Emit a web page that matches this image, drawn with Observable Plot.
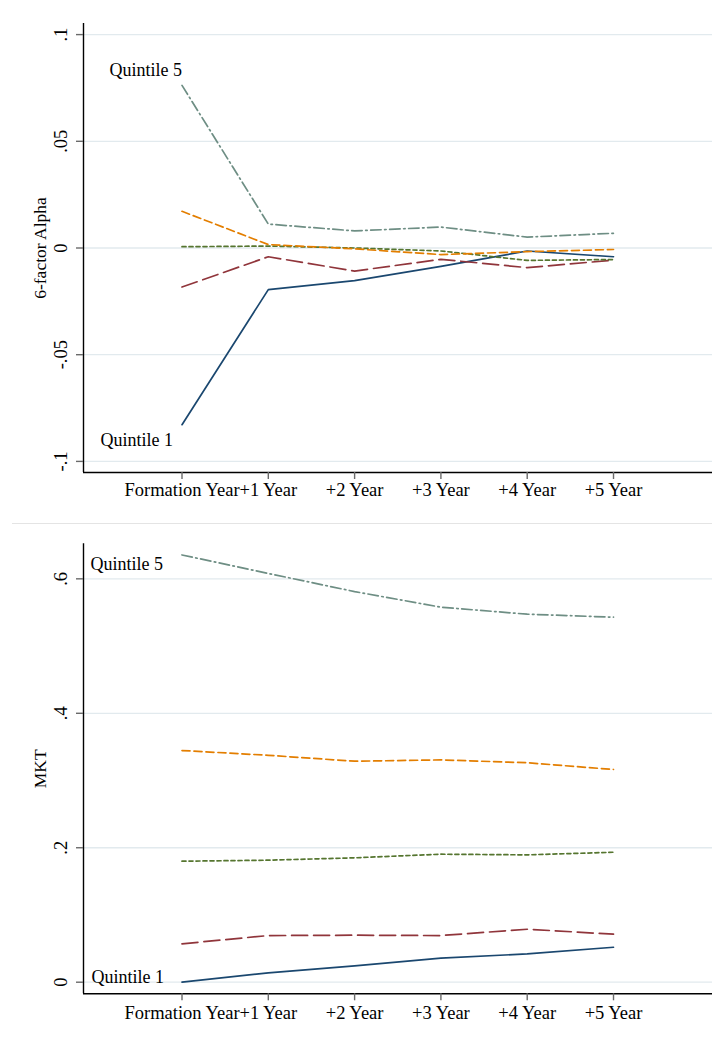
<!DOCTYPE html>
<html>
<head>
<meta charset="utf-8">
<script src="https://cdn.jsdelivr.net/npm/d3@7"></script>
<script src="https://cdn.jsdelivr.net/npm/@observablehq/plot@0.6"></script>
<style>
  html, body { margin: 0; padding: 0; background: #ffffff; }
  #sep { height: 1px; background: #e4e4e4; margin-left: 12px; }
  svg { display: block; }
</style>
</head>
<body>
<div id="top"></div>
<div id="sep"></div>
<div id="bottom"></div>
<script>
// ---- data ----
const xLabels = ["Formation Year", "+1 Year", "+2 Year", "+3 Year", "+4 Year", "+5 Year"];
const periods = [0, 1, 2, 3, 4, 5];
const seriesNames = ["Quintile 1", "Quintile 2", "Quintile 3", "Quintile 4", "Quintile 5"];

// 6-factor alpha
const alphaQ1 = [-0.0828, -0.0195, -0.0153, -0.0086, -0.0014, -0.0041];
const alphaQ2 = [-0.0183, -0.0041, -0.0108, -0.0053, -0.0092, -0.0057];
const alphaQ3 = [0.0006, 0.0009, 0.0000, -0.0014, -0.0058, -0.0054];
const alphaQ4 = [0.0172, 0.0016, -0.0004, -0.0031, -0.0017, -0.0007];
const alphaQ5 = [0.0762, 0.0112, 0.0080, 0.0098, 0.0051, 0.0069];

// MKT loading
const mktQ1 = [0.0000, 0.0139, 0.0243, 0.0357, 0.0421, 0.0520];
const mktQ2 = [0.0571, 0.0694, 0.0699, 0.0694, 0.0788, 0.0714];
const mktQ3 = [0.1800, 0.1815, 0.1850, 0.1904, 0.1894, 0.1933];
const mktQ4 = [0.3446, 0.3375, 0.3287, 0.3307, 0.3264, 0.3164];
const mktQ5 = [0.6355, 0.6080, 0.5810, 0.5578, 0.5474, 0.5429];

const alphaTicks = [-0.1, -0.05, 0, 0.05, 0.1];
const alphaTickLabels = ["-.1", "-.05", "0", ".05", ".1"];
const mktTicks = [0, 0.2, 0.4, 0.6];
const mktTickLabels = ["0", ".2", ".4", ".6"];

const alphaTitle = "6-factor Alpha";
const mktTitle = "MKT";

// ---- styles ----
const colors = ["#1a476f", "#90353b", "#55752f", "#e37e00", "#6e8e84"];
const dashes = [null, "16,6", "4,3", "8,4", "10.5,3.5,1.5,3.5"];
const FONT = "'Liberation Serif', 'Times New Roman', Times, serif";
const GRID = "#e2eaee";

function rows(values) {
  return periods.map((p, i) => ({x: p, y: values[i]}));
}

function panel({series, ticks, tickLabels, title, yDomain, height, marginTop, marginBottom, tickPadding, labels}) {
  const xDomain = [-1.1414, 6.147];
  const marks = [];
  marks.push(Plot.ruleY(ticks, {stroke: GRID, strokeWidth: 1.3}));
  series.forEach((vals, k) => {
    const opts = {x: "x", y: "y", stroke: colors[k], strokeWidth: 1.7, curve: "linear"};
    if (dashes[k]) opts.strokeDasharray = dashes[k];
    marks.push(Plot.line(rows(vals), opts));
  });
  marks.push(Plot.ruleY([yDomain[0]], {stroke: "#000", strokeWidth: 1.4}));
  marks.push(Plot.ruleX([xDomain[0]], {stroke: "#000", strokeWidth: 1.4}));
  marks.push(Plot.axisX({
    ticks: periods, tickFormat: i => xLabels[i], tickSize: 7, tickPadding,
    stroke: "#6a6a6a", strokeWidth: 1.4, fill: "#000", fontSize: 18.5, fontFamily: FONT, label: null
  }));
  marks.push(Plot.axisY({
    ticks, tickFormat: () => "", tickSize: 7, stroke: "#6a6a6a", strokeWidth: 1.4, label: null
  }));
  marks.push(Plot.text(ticks, {
    y: d => d, text: (d, i) => tickLabels[i], frameAnchor: "left", dx: -22.5, rotate: -90,
    textAnchor: "middle", lineAnchor: "middle", fontSize: 18.5, fontFamily: FONT, fill: "#000"
  }));
  marks.push(Plot.text([title], {
    text: d => d, frameAnchor: "left", dx: -43, rotate: -90,
    textAnchor: "middle", lineAnchor: "middle", fontSize: 17.5, fontFamily: FONT, fill: "#000"
  }));
  labels.forEach(l => {
    marks.push(Plot.text([{x: 0, y: series[l.k][0]}], {
      x: "x", y: "y", text: () => seriesNames[l.k], dx: l.dx, dy: l.dy,
      textAnchor: "end", lineAnchor: "middle", fontSize: 18, fontFamily: FONT, fill: "#000"
    }));
  });
  return Plot.plot({
    width: 712, height, marginLeft: 83, marginRight: 0, marginTop, marginBottom,
    x: {type: "linear", domain: xDomain, axis: null},
    y: {type: "linear", domain: yDomain, axis: null},
    style: {fontFamily: FONT, background: "#fff"},
    marks
  });
}

document.getElementById("top").append(panel({
  series: [alphaQ1, alphaQ2, alphaQ3, alphaQ4, alphaQ5],
  ticks: alphaTicks, tickLabels: alphaTickLabels, title: alphaTitle,
  yDomain: [-0.1052, 0.1052], height: 523, marginTop: 23, marginBottom: 51, tickPadding: 3.5,
  labels: [{k: 4, dx: 0, dy: -15}, {k: 0, dx: -9, dy: 16}]
}));

document.getElementById("bottom").append(panel({
  series: [mktQ1, mktQ2, mktQ3, mktQ4, mktQ5],
  ticks: mktTicks, tickLabels: mktTickLabels, title: mktTitle,
  yDomain: [-0.01725, 0.6521], height: 513, marginTop: 19.3, marginBottom: 43.7, tickPadding: 5,
  labels: [{k: 4, dx: -19, dy: 9}, {k: 0, dx: -18, dy: -5}]
}));
</script>
</body>
</html>
